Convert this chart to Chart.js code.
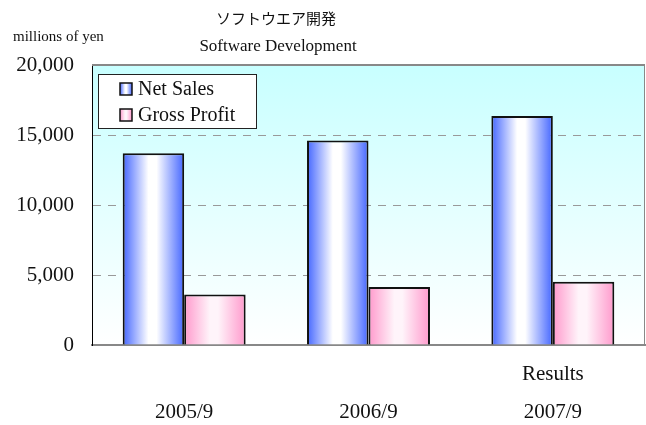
<!DOCTYPE html>
<html>
<head>
<meta charset="utf-8">
<script src="https://cdn.jsdelivr.net/npm/chart.js@4.4.0/dist/chart.umd.min.js"></script>
<style>
    html, body { margin: 0; padding: 0; background: #fff; }
    canvas { display: block; }
</style>
</head>
<body>
<canvas id="salesChart" width="646" height="425"></canvas>
<script>
// --- DATA ---
const titleJa = 'ソフトウエア開発';
const titleEn = 'Software Development';
const unitLabel = 'millions of yen';
const periods = [['', '2005/9'], ['', '2006/9'], ['Results', '2007/9']];
const seriesNames = ['Net Sales', 'Gross Profit'];
const netSales = [13700, 14600, 16350];
const grossProfit = [3600, 4150, 4520];
const yTicks = [0, 5000, 10000, 15000, 20000];

// --- STYLE ---
const FONT = "'Liberation Serif', 'Noto Sans CJK JP', serif";
const CAT_PCT = 0.667;
const BLUE = ['#4466ff', '#ffffff'];
const PINK = ['#ff99cc', '#fff4fa'];

function horizGradient(ctx, x0, x1, colors) {
    const g = ctx.createLinearGradient(x0, 0, x1, 0);
    g.addColorStop(0, colors[0]);
    g.addColorStop(0.42, colors[1]);
    g.addColorStop(0.55, colors[1]);
    g.addColorStop(1, colors[0]);
    return g;
}

// bar fill: gradient across each bar's own width
function barFill(colors) {
    return (c) => {
        const chart = c.chart;
        const xs = chart.scales.x;
        if (!chart.chartArea || !xs || c.dataIndex === undefined) return colors[0];
        const barW = xs.width / periods.length * CAT_PCT / 2;
        const center = xs.getPixelForValue(c.dataIndex) + (c.datasetIndex - 0.5) * barW;
        return horizGradient(chart.ctx, center - barW / 2, center + barW / 2, colors);
    };
}

const plotBackground = {
    id: 'plotBackground',
    beforeDraw(chart) {
        const { ctx, chartArea: a } = chart;
        const g = ctx.createLinearGradient(0, a.top, 0, a.bottom);
        g.addColorStop(0, '#c8ffff');
        g.addColorStop(1, '#ffffff');
        ctx.save();
        ctx.fillStyle = g;
        ctx.fillRect(a.left, a.top, a.right - a.left, a.bottom - a.top);
        ctx.restore();
    }
};

const decorations = {
    id: 'decorations',
    afterDraw(chart) {
        const { ctx, chartArea: a } = chart;
        ctx.save();

        // top and right frame
        ctx.strokeStyle = '#888';
        ctx.lineWidth = 2;
        ctx.beginPath();
        ctx.moveTo(a.left, a.top);
        ctx.lineTo(a.right, a.top);
        ctx.stroke();
        ctx.lineWidth = 1;
        ctx.beginPath();
        ctx.moveTo(a.right - 0.5, a.top);
        ctx.lineTo(a.right - 0.5, a.bottom);
        ctx.stroke();

        // titles
        ctx.fillStyle = '#111';
        ctx.textBaseline = 'middle';
        ctx.textAlign = 'center';
        ctx.font = "15px 'Noto Sans CJK JP', sans-serif";
        ctx.fillText(titleJa, 276, 18);
        ctx.font = '17px ' + FONT;
        ctx.fillText(titleEn, 278, 47);
        ctx.textAlign = 'left';
        ctx.font = '15px ' + FONT;
        ctx.fillText(unitLabel, 13, 37);

        // legend box
        const bx = a.left + 6, by = a.top + 9, bw = 158, bh = 54;
        ctx.fillStyle = '#fff';
        ctx.fillRect(bx, by, bw, bh);
        ctx.strokeStyle = '#222';
        ctx.lineWidth = 1;
        ctx.strokeRect(bx + 0.5, by + 0.5, bw, bh);
        const swatches = [BLUE, PINK];
        ctx.font = '20px ' + FONT;
        seriesNames.forEach((name, i) => {
            const cy = by + 15 + i * 26;
            const sx = bx + 22;
            ctx.fillStyle = horizGradient(ctx, sx, sx + 12, swatches[i]);
            ctx.fillRect(sx, cy - 6, 12, 12);
            ctx.strokeStyle = '#111';
            ctx.lineWidth = 1.5;
            ctx.strokeRect(sx, cy - 6, 12, 12);
            ctx.fillStyle = '#111';
            ctx.fillText(name, bx + 40, cy + 1);
        });
        ctx.restore();
    }
};

new Chart(document.getElementById('salesChart'), {
    type: 'bar',
    data: {
        labels: periods,
        datasets: [
            { label: seriesNames[0], data: netSales, backgroundColor: barFill(BLUE) },
            { label: seriesNames[1], data: grossProfit, backgroundColor: barFill(PINK) }
        ]
    },
    options: {
        responsive: false,
        animation: false,
        layout: { padding: { top: 65, right: 1, left: 0, bottom: 0 } },
        datasets: {
            bar: {
                categoryPercentage: CAT_PCT,
                barPercentage: 1.0,
                borderColor: '#111',
                borderWidth: 2
            }
        },
        scales: {
            x: {
                afterFit: (scale) => { scale.height = 80; },
                grid: { display: false },
                border: { display: true, color: '#888', width: 2 },
                ticks: {
                    color: '#111',
                    padding: 3,
                    maxRotation: 0,
                    font: { family: FONT, size: 21, lineHeight: 1.8 }
                }
            },
            y: {
                min: yTicks[0],
                max: yTicks[yTicks.length - 1],
                afterFit: (scale) => { scale.width = 92; },
                afterBuildTicks: (scale) => { scale.ticks = yTicks.map(v => ({ value: v })); },
                grid: {
                    drawTicks: false,
                    color: (c) => (c.tick && (c.tick.value === yTicks[0] || c.tick.value === yTicks[yTicks.length - 1])) ? 'rgba(0,0,0,0)' : '#999',
                    lineWidth: 1
                },
                border: { display: true, color: '#000', width: 1, dash: [8, 7] },
                ticks: {
                    color: '#111',
                    padding: 18,
                    font: { family: FONT, size: 21 },
                    callback: (v) => v.toLocaleString('en-US')
                }
            }
        },
        plugins: {
            legend: { display: false },
            title: { display: false },
            tooltip: { enabled: false }
        }
    },
    plugins: [plotBackground, decorations]
});
</script>
</body>
</html>
